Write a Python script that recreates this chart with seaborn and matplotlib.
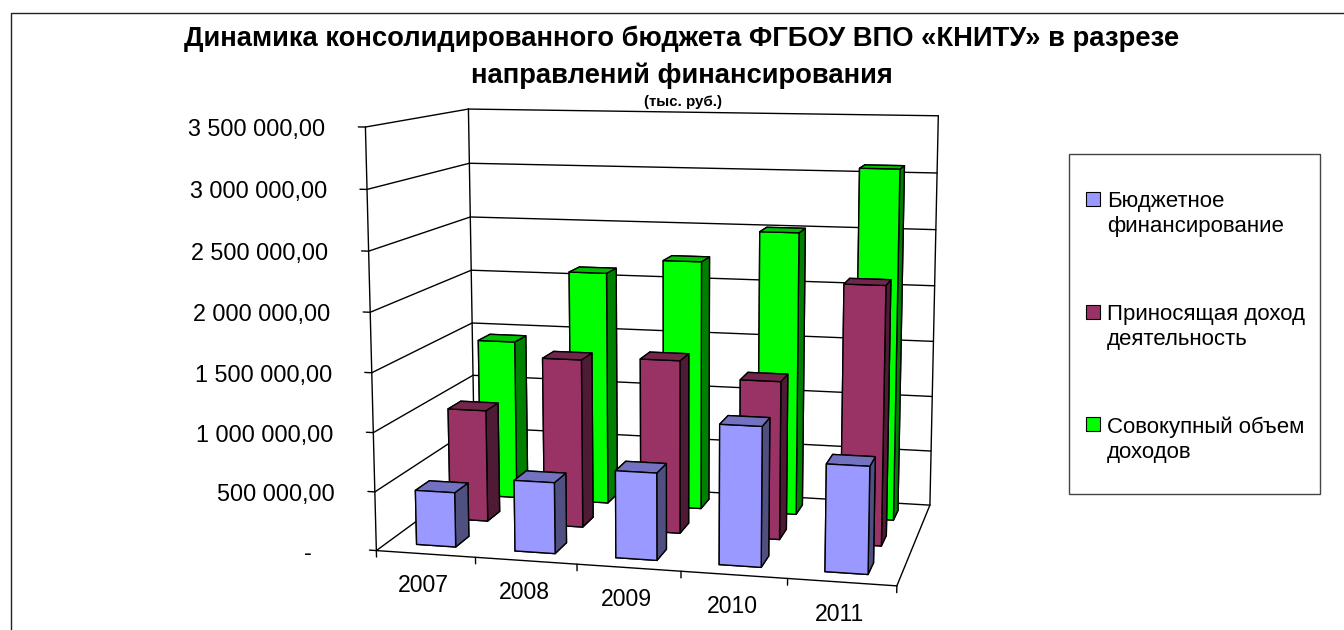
import numpy as np
import matplotlib
matplotlib.use("Agg")
import matplotlib.pyplot as plt
from matplotlib.patches import Rectangle
import seaborn as sns

# ==================================================
# Data (thousand roubles)
# ==================================================

years = ["2007", "2008", "2009", "2010", "2011"]
budget = [465000, 600000, 730000, 1160000, 882000]
income = [985000, 1470000, 1500000, 1360000, 2200000]
total = [1445000, 2100000, 2230000, 2510000, 3080000]

series_names = ["Бюджетное\nфинансирование", "Приносящая доход\nдеятельность", "Совокупный объем\nдоходов"]
series_values = [budget, income, total]
front_colors = ["#9999FF", "#993366", "#00FF00"]
top_colors = ["#7272C0", "#72264C", "#00C000"]
side_colors = ["#505080", "#4F1A35", "#008000"]

value_ticks = [0, 500000, 1000000, 1500000, 2000000, 2500000, 3000000, 3500000]
value_labels = ["-", "500 000,00", "1 000 000,00", "1 500 000,00", "2 000 000,00",
                "2 500 000,00", "3 000 000,00", "3 500 000,00"]
value_max = value_ticks[-1]

# ==================================================
# Setup
# ==================================================

sns.set_theme(style="white")
plt.rcParams["font.family"] = ["Liberation Sans", "DejaVu Sans"]

W, H = 1344, 630
fig = plt.figure(figsize=(W / 100, H / 100), dpi=100, facecolor="white")

# flat layer in picture pixels for frame, title, labels and legend
bg = fig.add_axes([0, 0, 1, 1])
bg.set_xlim(0, W)
bg.set_ylim(H, 0)
bg.axis("off")

ax = fig.add_axes([0, 0, 1, 1], projection="3d", computed_zorder=False)
ax.set_axis_off()
ax.patch.set_alpha(0)
ax.apply_aspect = lambda position=None: None

# ==================================================
# Camera: fitted to the corners of the chart box
# ==================================================

box_world = [(0, 0, 0), (0, 0, 1), (0, 1, 1), (0, 1, 0), (5, 0, 0), (5, 1, 0), (5, 1, 1),
             (0, 0, 3 / 7), (0, 1, 3 / 7), (5, 1, 4 / 7)]
box_px = [(375.7, 551), (366, 126.7), (467.7, 109.3), (475.5, 478), (896.7, 585.5), (930, 505.7),
          (938.7, 116), (372, 373), (472, 323), (934.3, 285.3)]

rows = []
for (x, y, z), (u, v) in zip(box_world, box_px):
    rows.append([x, y, z, 1, 0, 0, 0, 0, -u * x, -u * y, -u * z, -u])
    rows.append([0, 0, 0, 0, x, y, z, 1, -v * x, -v * y, -v * z, -v])
cam = np.linalg.svd(np.array(rows))[2][-1].reshape(3, 4)
cam = cam / cam[2, 3]
cam[:, 2] = cam[:, 2] / value_max


def project(x, y, z):
    p = cam @ np.array([x, y, z, 1.0])
    return p[0] / p[2], p[1] / p[2]


def fitted_proj():
    to_display = np.array([[1, 0, 0], [0, -1, H], [0, 0, 1.0]])
    m = ax.transData.inverted().get_matrix() @ to_display @ cam
    # third row only sorts the faces of a bar, bigger is further away.
    # kept negative, lines with a positive depth are not drawn
    depth = np.array([-0.01, 0.1, -0.05 / value_max, 0]) - m[2]
    return np.array([m[0], m[1], depth, m[2]])


ax.get_proj = fitted_proj

# ==================================================
# Walls and floor
# ==================================================

LINE = dict(color="black", lw=1.0, zorder=1)
n = len(years)

for v in value_ticks:
    ax.plot([-0.07, 0], [0, 0], [v, v], **LINE)
    ax.plot([0, 0], [0, 1], [v, v], **LINE)
    ax.plot([0, n], [1, 1], [v, v], **LINE)

ax.plot([0, 0], [0, 0], [0, value_max], **LINE)
ax.plot([0, 0], [1, 1], [0, value_max], **LINE)
ax.plot([n, n], [1, 1], [0, value_max], **LINE)
ax.plot([0, n], [0, 0], [0, 0], **LINE)
ax.plot([n, n], [0, 1], [0, 0], **LINE)

for i in range(n + 1):
    ax.plot([i, i], [0, 0], [0, -55000], **LINE)

# ==================================================
# Bars, far row first
# ==================================================

order = 10
for s in reversed(range(len(series_values))):
    for i in reversed(range(n)):
        faces = [side_colors[s], top_colors[s], front_colors[s],
                 side_colors[s], side_colors[s], side_colors[s]]
        ax.bar3d(i + 0.3, (s + 0.3) / 3, 0, 0.4, 0.4 / 3, series_values[s][i],
                 color=faces, shade=False, edgecolor="black", linewidth=1.0, zorder=order)
        order += 1

# ==================================================
# Labels
# ==================================================

for v, label in zip(value_ticks, value_labels):
    px, py = project(0, 0, v)
    right = px - 66 if label == "-" else px - 41
    bg.text(right + 1, py + 2.5, label, ha="right", va="center", fontsize=16.8, color="black")

for i, label in enumerate(years):
    px, py = project(i + 0.5, 0, 0)
    bg.text(px - 2, py + 32, label, ha="center", va="center", fontsize=16.6, color="black")

bg.text(682, 39, "Динамика консолидированного бюджета ФГБОУ ВПО «КНИТУ» в разрезе",
        ha="center", va="center", fontsize=19.75, fontweight="bold", color="black")
bg.text(682, 76, "направлений финансирования",
        ha="center", va="center", fontsize=19.75, fontweight="bold", color="black")
bg.text(683, 102, "(тыс. руб.)", ha="center", va="center", fontsize=10.9, fontweight="bold", color="black")

# ==================================================
# Frame and legend
# ==================================================

bg.plot([10.5, 10.5, W], [H, 13, 13], color="#222222", lw=1)

bg.add_patch(Rectangle((1068.5, 153.7), 251.5, 340.6, facecolor="white", edgecolor="#444444", lw=1))
for s, name in enumerate(series_names):
    top = 192 + s * 112.7
    bg.add_patch(Rectangle((1086, top), 14, 14, facecolor=front_colors[s], edgecolor="black", lw=0.8))
    bg.text(1107, top - 1, name, ha="left", va="top", fontsize=16, linespacing=1.24, color="black")

fig.savefig("out.png", dpi=100)
plt.close(fig)
